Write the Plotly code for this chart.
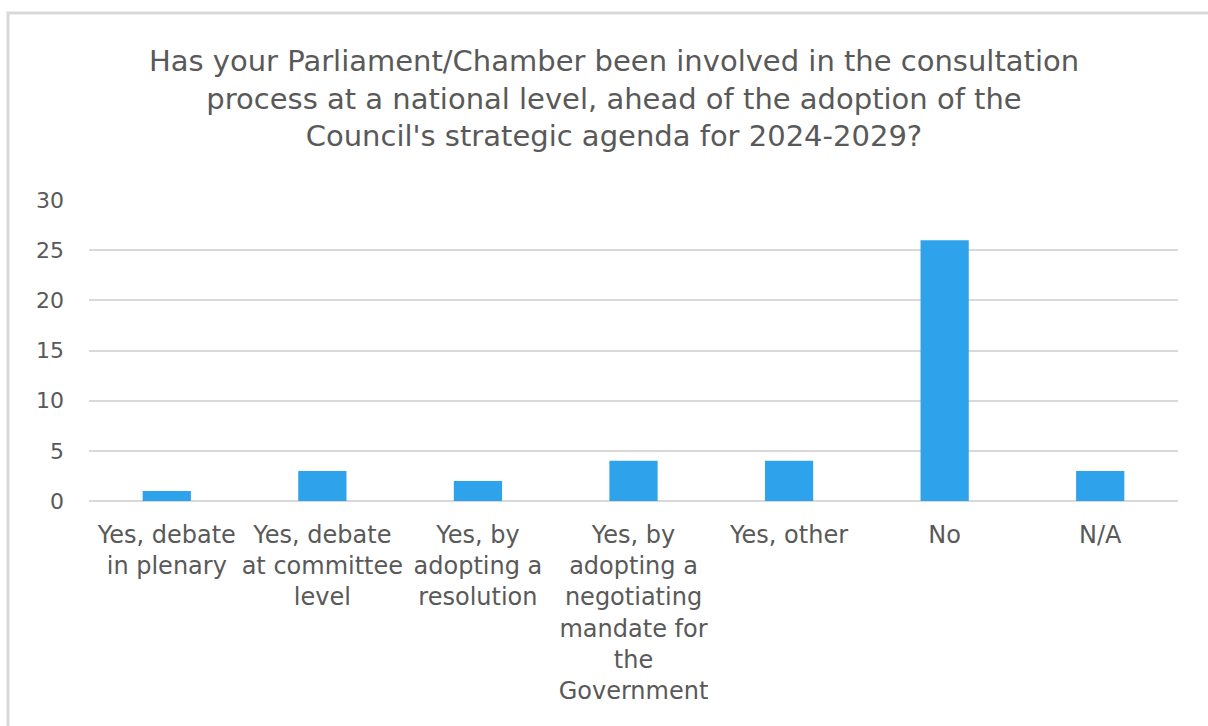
import plotly.graph_objects as go

# Survey responses
categories = [
    "Yes, debate<br>in plenary",
    "Yes, debate<br>at committee<br>level",
    "Yes, by<br>adopting a<br>resolution",
    "Yes, by<br>adopting a<br>negotiating<br>mandate for<br>the<br>Government",
    "Yes, other",
    "No",
    "N/A",
]
counts = [1, 3, 2, 4, 4, 26, 3]
y_ticks = [0, 5, 10, 15, 20, 25, 30]

title_text = (
    "Has your Parliament/Chamber been involved in the consultation<br>"
    "process at a national level, ahead of the adoption of the<br>"
    "Council's strategic agenda for 2024-2029?"
)

W, H = 1208, 726
L, R, T, B = 89, 30, 200, 225
TEXT = "#595959"
GRID = "#D9D9D9"
FONT = "DejaVu Sans"

fig = go.Figure(
    go.Bar(
        x=categories,
        y=counts,
        marker=dict(color="#2FA2EC", line=dict(width=0)),
        hoverinfo="x+y",
    )
)

fig.update_layout(
    width=W,
    height=H,
    margin=dict(l=L, r=R, t=T, b=B, pad=0),
    paper_bgcolor="white",
    plot_bgcolor="white",
    bargap=0.69,
    showlegend=False,
    title=dict(
        text=title_text,
        x=614 / W,
        xanchor="center",
        xref="container",
        y=1 - 71 / H,
        yanchor="middle",
        font=dict(family=FONT, size=29, color=TEXT),
    ),
    font=dict(family=FONT, color=TEXT),
)

fig.update_xaxes(
    type="category",
    showgrid=False,
    showline=False,
    ticks="",
    tickangle=0,
    tickfont=dict(family=FONT, size=24, color=TEXT),
    ticklabelstandoff=17,
)

fig.update_yaxes(
    range=[0, 30],
    tickvals=y_ticks,
    showgrid=True,
    gridcolor=GRID,
    gridwidth=2,
    zeroline=True,
    zerolinecolor=GRID,
    zerolinewidth=2,
    showline=False,
    ticks="",
    tickfont=dict(family=FONT, size=22, color=TEXT),
    ticklabelstandoff=24,
)

# Light frame around the chart area (right and bottom edges fall outside the page)
fig.add_shape(
    type="rect",
    xref="paper",
    yref="paper",
    x0=(8 - L) / (W - L - R),
    x1=(W + 20 - L) / (W - L - R),
    y0=-(B + 20) / (H - T - B),
    y1=1 + (T - 13) / (H - T - B),
    line=dict(color="#D9D9D9", width=3),
    fillcolor="rgba(0,0,0,0)",
    layer="below",
)

fig.write_html("out.html")
